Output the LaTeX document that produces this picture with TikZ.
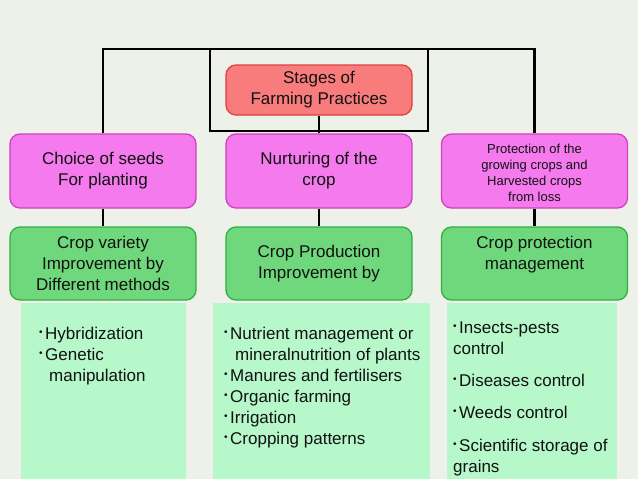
\documentclass[tikz,border=0pt]{standalone}
\usepackage{fontspec}
\setmainfont{Liberation Sans}
\definecolor{bgc}{HTML}{EDF1EA}
\definecolor{redfill}{HTML}{F87C7C}
\definecolor{redline}{HTML}{E0403F}
\definecolor{pinkfill}{HTML}{F47AEE}
\definecolor{pinkline}{HTML}{D040C0}
\definecolor{greenfill}{HTML}{70D87C}
\definecolor{greenline}{HTML}{30B040}
\definecolor{listfill}{HTML}{B6F8CA}
\definecolor{ink}{HTML}{111111}
\newcommand\bul{\makebox[6pt][l]{\raisebox{3.5pt}{\fontsize{10}{10}\selectfont •}}}
\tikzset{
  box/.style={rounded corners=10pt, line width=1.3pt, minimum width=186pt, align=center, inner sep=0pt, text=ink, font=\fontsize{17}{21}\selectfont},
  redbox/.style={box, fill=redfill, draw=redline, minimum height=50pt},
  pinkbox/.style={box, fill=pinkfill, draw=pinkline, minimum height=74pt},
  greenbox/.style={box, fill=greenfill, draw=greenline, minimum height=73pt},
  listbox/.style={fill=listfill, draw=none},
  listtext/.style={anchor=north west, align=left, inner sep=0pt, text=ink, font=\fontsize{17}{21}\selectfont},
  conn/.style={draw=black, line width=2.5pt}
}
\begin{document}
\begin{tikzpicture}[x=1pt,y=-1pt]
\fill[bgc] (0,0) rectangle (638,479);
\useasboundingbox (0,0) rectangle (638,479);
% list panels
\fill[listbox] (21,303) rectangle (186,479);
\fill[listbox] (213,303) rectangle (430,479);
\fill[listbox] (447,303) rectangle (617,479);
% boxes
\node[redbox] (stages) at (319,90) {Stages of\\Farming Practices};
\node[pinkbox] (p1) at (103,171) {Choice of seeds\\For planting};
\node[pinkbox] (p2) at (319,171) {Nurturing of the\\crop};
\node[pinkbox, font=\fontsize{13}{16}\selectfont] (p3) at (534.5,171) {\rule{0pt}{13.5pt}Protection of the\\growing crops and\\Harvested crops\\from loss};
\node[greenbox] (g1) at (103,263.5) {Crop variety\\Improvement by\\Different methods};
\node[greenbox] (g2) at (319,263.5) {Crop Production\\Improvement by};
\node[greenbox] (g3) at (534.5,263.5) {Crop protection\\management\\\mbox{}};
% frame
\coordinate (ftop) at (103,49);
\coordinate (ia) at (210,49);
\coordinate (ib) at (428,131);
\draw[conn] (p1.north) -- (p1.north |- ftop) -- (p3.north |- ftop) -- (p3.north);
\draw[conn] (ia) rectangle (ib);
\draw[conn] (stages.south) -- (p2.north);
\draw[conn] (p1.south) -- (g1.north);
\draw[conn] (p2.south) -- (g2.north);
\draw[conn] (p3.south) -- (g3.north);
% lists
\node[listtext] (l1) at (39,326.5) {\bul Hybridization\\\bul Genetic\\\hspace*{10pt}manipulation};
\node[listtext] (l2) at (224,326.5) {\bul Nutrient management or\\\hspace*{11pt}mineralnutrition of plants\\\bul Manures and fertilisers\\\bul Organic farming\\\bul Irrigation\\\bul Cropping patterns};
\node[listtext] (l3) at (453,321.5) {\bul Insects-pests\\control\\[11pt]\bul Diseases control\\[11pt]\bul Weeds control\\[12pt]\bul Scientific storage of\\grains};
\end{tikzpicture}
\end{document}
